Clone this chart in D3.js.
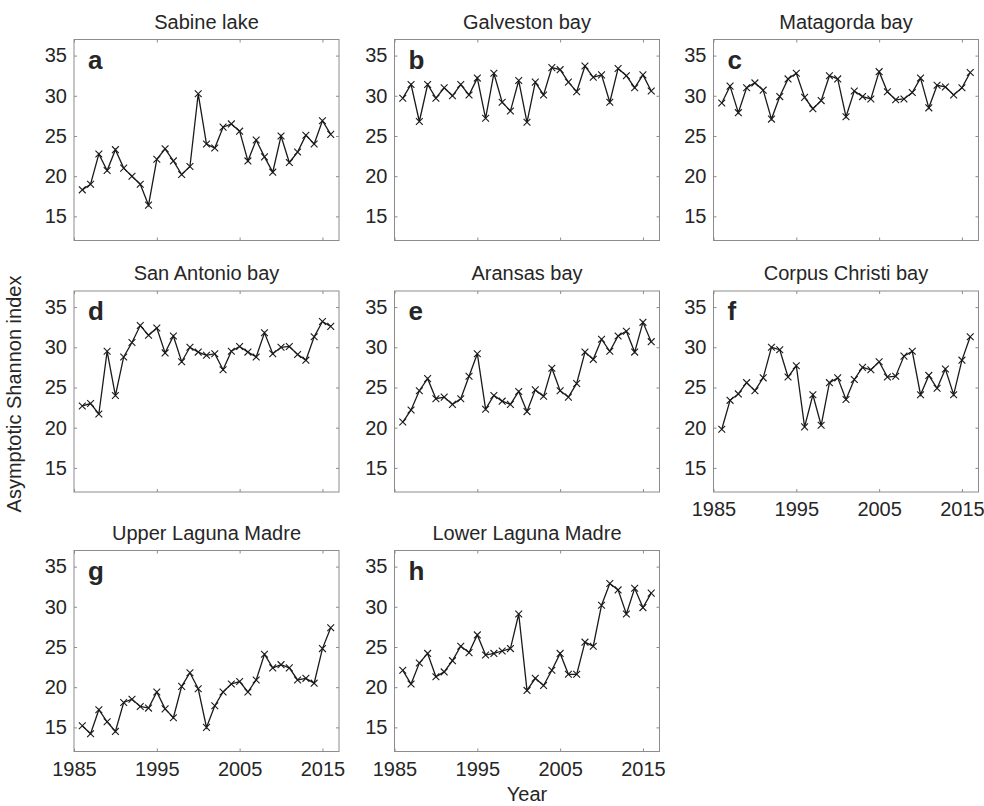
<!DOCTYPE html>
<html>
<head>
<meta charset="utf-8">
<script src="https://cdn.jsdelivr.net/npm/d3@7"></script>
<style>
  body { margin: 0; background: #fff; }
  svg text { font-family: "Liberation Sans", Arial, Helvetica, sans-serif; fill: #262626; }
</style>
</head>
<body>
<svg id="chart" width="984" height="806"></svg>
<script>
// years shared by all panels
var years = d3.range(1986, 2017);

var titles = ["Sabine lake", "Galveston bay", "Matagorda bay", "San Antonio bay",
              "Aransas bay", "Corpus Christi bay", "Upper Laguna Madre", "Lower Laguna Madre"];
var letters = ["a", "b", "c", "d", "e", "f", "g", "h"];

var sabine = [18.3, 19.0, 22.75, 20.7, 23.3, 21.0, 20.0, 19.0, 16.4, 22.1, 23.4, 21.9, 20.2, 21.2, 30.25,
              24.0, 23.5, 26.1, 26.5, 25.6, 21.9, 24.5, 22.4, 20.5, 25.0, 21.7, 23.0, 25.1, 24.0, 26.9, 25.2];
var galveston = [29.7, 31.4, 26.8, 31.4, 29.7, 31.0, 30.0, 31.4, 30.1, 32.2, 27.2, 32.8, 29.2, 28.1, 31.9,
                 26.7, 31.7, 30.1, 33.5, 33.25, 31.7, 30.5, 33.7, 32.3, 32.6, 29.2, 33.4, 32.5, 31.0, 32.6, 30.6];
var matagorda = [29.1, 31.2, 27.9, 31.0, 31.6, 30.7, 27.1, 29.9, 32.1, 32.8, 29.8, 28.4, 29.4, 32.5, 32.1,
                 27.4, 30.6, 29.9, 29.6, 33.0, 30.5, 29.5, 29.6, 30.4, 32.2, 28.5, 31.3, 31.1, 30.1, 31.0, 32.9];
var sanAntonio = [22.7, 23.0, 21.7, 29.5, 24.0, 28.8, 30.6, 32.7, 31.5, 32.4, 29.3, 31.4, 28.2, 30.0, 29.4,
                  29.0, 29.2, 27.2, 29.5, 30.1, 29.4, 28.8, 31.8, 29.2, 30.0, 30.1, 29.1, 28.4, 31.3, 33.2, 32.6];
var aransas = [20.7, 22.2, 24.6, 26.1, 23.6, 23.8, 22.9, 23.6, 26.4, 29.2, 22.3, 24.0, 23.3, 22.9, 24.5,
               22.0, 24.7, 23.9, 27.4, 24.6, 23.8, 25.5, 29.4, 28.5, 31.0, 29.5, 31.4, 32.0, 29.4, 33.1, 30.7];
var corpus = [19.8, 23.4, 24.2, 25.6, 24.6, 26.2, 30.0, 29.7, 26.3, 27.7, 20.1, 24.1, 20.3, 25.6, 26.2,
              23.5, 26.0, 27.5, 27.2, 28.2, 26.3, 26.4, 28.9, 29.5, 24.1, 26.5, 24.9, 27.3, 24.1, 28.4, 31.3];
var upperLaguna = [15.2, 14.2, 17.2, 15.7, 14.5, 18.1, 18.5, 17.6, 17.4, 19.4, 17.3, 16.2, 20.1, 21.8, 19.8,
                   15.0, 17.7, 19.4, 20.4, 20.7, 19.4, 20.9, 24.1, 22.4, 22.8, 22.4, 20.9, 21.1, 20.5, 24.8, 27.4];
var lowerLaguna = [22.1, 20.4, 23.0, 24.2, 21.3, 21.9, 23.3, 25.1, 24.3, 26.5, 24.0, 24.2, 24.5, 24.8, 29.1,
                   19.6, 21.1, 20.2, 22.1, 24.2, 21.6, 21.6, 25.6, 25.1, 30.2, 32.9, 32.1, 29.1, 32.3, 29.9, 31.7];

var series = [sabine, galveston, matagorda, sanAntonio, aransas, corpus, upperLaguna, lowerLaguna];

var xTicks = [1985, 1995, 2005, 2015];
var yTicks = [15, 20, 25, 30, 35];

var svg = d3.select("#chart"),
    colLeft = [74, 394.5, 713.5],
    rowTop = [39.5, 291, 550.5],
    panelW = 265,
    panelH = 201,
    boxColor = "#8c8c8c",
    fontSize = 20;

var x = d3.scaleLinear().domain([1985, 2017]).range([0, panelW]),
    y = d3.scaleLinear().domain([12, 37]).range([panelH, 0]);

var line = d3.line()
    .x(function(d) { return x(d[0]); })
    .y(function(d) { return y(d[1]); });

var marker = d3.symbol().type(d3.symbolTimes).size(32);

series.forEach(function(values, i) {
    var col = i % 3,
        row = Math.floor(i / 3),
        pts = values.map(function(v, k) { return [years[k], v]; }),
        showX = (i >= 5);

    var g = svg.append("g")
        .attr("transform", "translate(" + colLeft[col] + "," + rowTop[row] + ")");

    // ticks point inward on all four sides, labels only left / bottom
    var yAxis = g.append("g")
        .call(d3.axisLeft(y).tickValues(yTicks).tickSize(-3).tickPadding(7));
    var yAxisR = g.append("g").attr("transform", "translate(" + panelW + ",0)")
        .call(d3.axisRight(y).tickValues(yTicks).tickSize(-3).tickFormat(""));
    var xAxis = g.append("g").attr("transform", "translate(0," + panelH + ")")
        .call(d3.axisBottom(x).tickValues(xTicks).tickSize(-3).tickPadding(10)
            .tickFormat(showX ? d3.format("d") : ""));
    var xAxisT = g.append("g")
        .call(d3.axisTop(x).tickValues(xTicks).tickSize(-3).tickFormat(""));

    [yAxis, yAxisR, xAxis, xAxisT].forEach(function(a) {
        a.select(".domain").remove();
        a.selectAll(".tick line").attr("stroke", boxColor);
        a.selectAll(".tick text").attr("font-size", fontSize).attr("fill", "#262626")
            .style("font-family", "'Liberation Sans', Arial, sans-serif");
    });

    g.append("rect")
        .attr("width", panelW).attr("height", panelH)
        .attr("fill", "none").attr("stroke", boxColor).attr("stroke-width", 1);

    g.append("path")
        .datum(pts)
        .attr("d", line)
        .attr("fill", "none")
        .attr("stroke", "#1a1a1a")
        .attr("stroke-width", 1.3);

    g.selectAll(".mk")
        .data(pts)
        .enter().append("path")
            .attr("class", "mk")
            .attr("transform", function(d) { return "translate(" + x(d[0]) + "," + y(d[1]) + ")"; })
            .attr("d", marker)
            .attr("fill", "none")
            .attr("stroke", "#1a1a1a")
            .attr("stroke-width", 1.1);

    g.append("text")
        .attr("x", 14).attr("y", 29)
        .attr("font-size", 26).attr("font-weight", "bold")
        .attr("fill", "#1a1a1a")
        .text(letters[i]);

    g.append("text")
        .attr("x", panelW / 2).attr("y", -11)
        .attr("text-anchor", "middle")
        .attr("font-size", fontSize)
        .text(titles[i]);
});

svg.append("text")
    .attr("transform", "translate(21,394) rotate(-90)")
    .attr("text-anchor", "middle")
    .attr("font-size", fontSize)
    .text("Asymptotic Shannon index");

svg.append("text")
    .attr("x", colLeft[1] + panelW / 2).attr("y", 801)
    .attr("text-anchor", "middle")
    .attr("font-size", fontSize)
    .text("Year");
</script>
</body>
</html>
